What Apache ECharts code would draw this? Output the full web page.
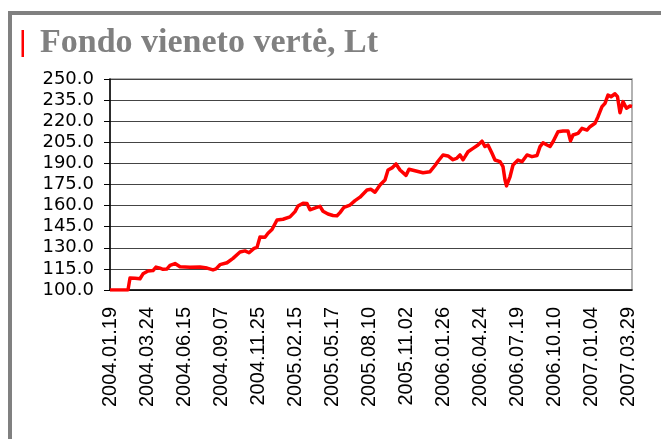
<!DOCTYPE html>
<html>
<head>
<meta charset="utf-8">
<script src="https://cdn.jsdelivr.net/npm/echarts@6/dist/echarts.min.js"></script>
<style>
html,body{margin:0;padding:0;background:#fff;}
#chart{width:661px;height:439px;}
</style>
</head>
<body>
<div id="chart"></div>
<script>
// Tick labels along the x axis (one per label interval)
const dateLabels = ['2004.01.19','2004.03.24','2004.06.15','2004.09.07','2004.11.25','2005.02.15','2005.05.17','2005.08.10','2005.11.02','2006.01.26','2006.04.24','2006.07.19','2006.10.10','2007.01.04','2007.03.29'];
// Y tick labels
const yTicks = [100,115,130,145,160,175,190,205,220,235,250];
// Series: position in label intervals (0 = 2004.01.19) and unit value, Lt
const tPos = [0,0.486,0.541,0.676,0.811,0.892,1.027,1.162,1.243,1.351,1.432,1.541,1.622,1.757,1.892,2.162,2.432,2.622,2.784,2.865,2.973,3.162,3.324,3.514,3.649,3.757,3.892,3.973,4.054,4.189,4.270,4.378,4.514,4.676,4.865,5.000,5.081,5.216,5.324,5.405,5.568,5.676,5.757,5.892,6.027,6.135,6.216,6.324,6.486,6.622,6.757,6.946,7.054,7.162,7.297,7.432,7.514,7.622,7.730,7.838,8.000,8.081,8.243,8.459,8.649,8.784,8.865,9.000,9.135,9.270,9.378,9.459,9.541,9.595,9.676,9.811,9.946,10.054,10.135,10.216,10.324,10.405,10.541,10.622,10.676,10.716,10.811,10.892,11.027,11.135,11.270,11.405,11.541,11.622,11.703,11.811,11.892,11.973,12.108,12.243,12.378,12.446,12.514,12.649,12.757,12.892,12.973,13.108,13.189,13.297,13.378,13.459,13.541,13.649,13.716,13.784,13.865,13.959,14.054,14.108];
const unitValue = [100,100,108.5,108.3,108,111.5,113.5,113.8,116.3,115.5,114.7,115,117.5,118.8,116.5,116.2,116.4,115.6,114.3,115,118,119.4,122.5,127,127.8,126.5,129.6,130.3,137.7,137.5,140.3,143,149.8,150.3,152,155.7,159.7,161.6,161.5,157,158.5,159.5,156,154,153,152.8,155,158.8,160.4,163.5,166,171.1,171.6,169.5,174.6,178.2,185.3,186.8,189.6,185.3,181.5,185.8,184.8,183.4,184.1,188.5,191.5,196,195.3,192.6,193.8,196,192.6,194.8,198.3,200.7,203.1,205.8,202,203.1,197.2,192.4,191.2,187.7,178.2,174,180.5,188.9,192.4,191.2,196,194.8,195.6,201.9,204.7,203.1,202,205.4,212.5,213,213,206,210.2,211.4,214.9,213.7,216.1,218.5,223.2,230.3,232.7,238.6,237.4,239.5,237.4,226,233.9,229.2,230.8,230.5];
const titleText = 'Fondo vieneto vertė, Lt';

const seriesData = tPos.map((t, i) => [t, unitValue[i]]);
const xTickPos = dateLabels.map((d, i) => i);

const chart = echarts.init(document.getElementById('chart'), null, {renderer: 'canvas'});
chart.setOption({
  animation: false,
  backgroundColor: '#ffffff',
  title: {
    text: titleText,
    left: 35,
    top: 21,
    textStyle: {fontFamily: 'Liberation Serif', fontWeight: 'bold', fontSize: 34, color: '#808080'}
  },
  graphic: [
    {type: 'line', shape: {x1: 8, y1: 13, x2: 661, y2: 13}, style: {stroke: '#808080', lineWidth: 4}, z: 10},
    {type: 'line', shape: {x1: 10, y1: 11, x2: 10, y2: 439}, style: {stroke: '#808080', lineWidth: 4}, z: 10},
    {type: 'rect', shape: {x: 21.5, y: 30, width: 2.5, height: 27}, style: {fill: '#ff0000'}, z: 10}
  ],
  grid: {left: 110, right: 29, top: 79, bottom: 149, show: true, borderColor: '#999999', borderWidth: 1.5, backgroundColor: 'transparent'},
  xAxis: {
    type: 'value',
    min: 0,
    max: tPos[tPos.length - 1],
    axisLine: {show: true, lineStyle: {color: '#000', width: 1.5}},
    axisTick: {show: false, customValues: xTickPos},
    splitLine: {show: false},
    axisLabel: {
      customValues: xTickPos,
      rotate: 90,
      margin: 17,
      fontFamily: 'Liberation Sans',
      fontSize: 20,
      color: '#000',
      formatter: v => dateLabels[Math.round(v)] || ''
    }
  },
  yAxis: {
    type: 'value',
    min: yTicks[0],
    max: yTicks[yTicks.length - 1],
    axisLine: {show: true, lineStyle: {color: '#000', width: 1.5}},
    axisTick: {show: true, length: 6, customValues: yTicks, lineStyle: {color: '#000'}},
    splitLine: {show: true, lineStyle: {color: '#444', width: 1}},
    axisLabel: {
      customValues: yTicks,
      margin: 16,
      fontFamily: 'DejaVu Sans',
      fontSize: 18,
      color: '#000',
      formatter: v => v.toFixed(1)
    }
  },
  series: [{
    type: 'line',
    data: seriesData,
    showSymbol: false,
    symbol: 'none',
    lineStyle: {color: '#ff0000', width: 3.5, join: 'round'},
    z: 5
  }]
});
</script>
</body>
</html>
